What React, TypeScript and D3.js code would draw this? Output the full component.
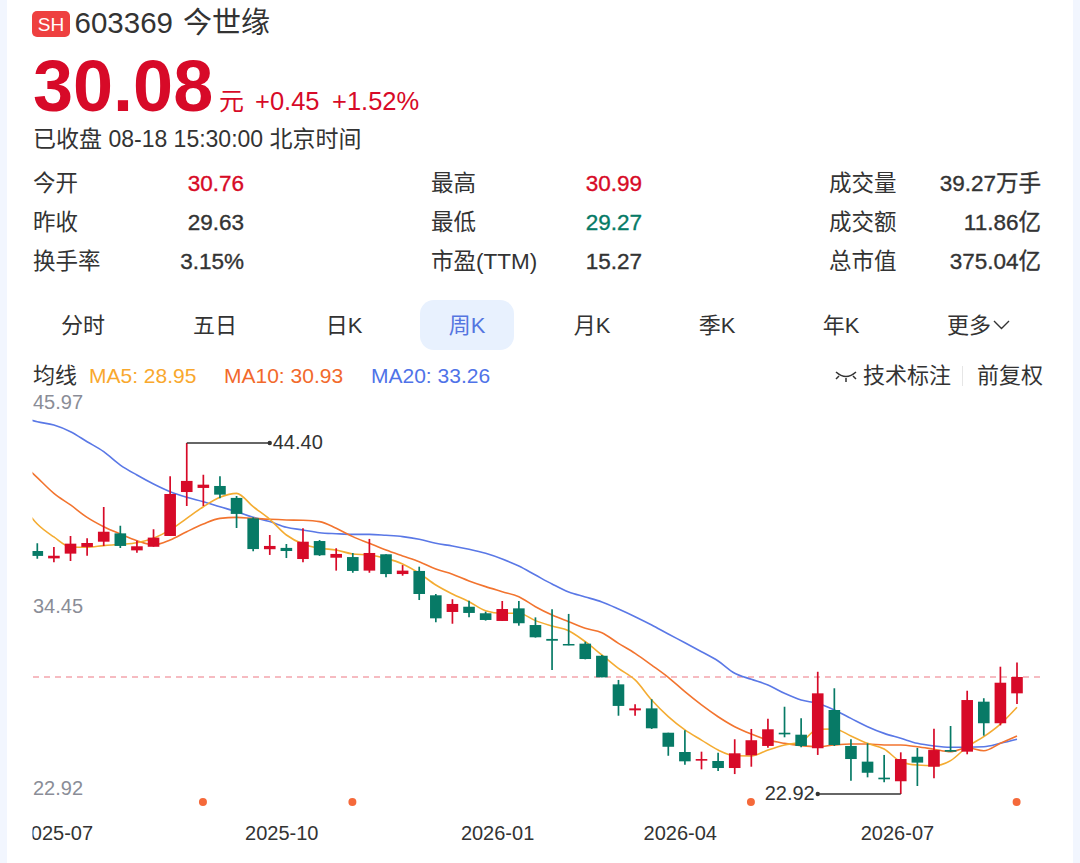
import React from "react";
import * as d3 from "d3";

const opens = [37.79,37.34,37.63,38.04,38.36,38.87,37.83,38.05,38.71,41.40,41.65,41.77,41.04,39.79,37.90,37.98,37.30,38.40,37.38,37.42,36.59,37.59,36.38,36.57,35.08,34.06,34.38,33.98,33.51,34.28,33.26,32.41,32.10,32.12,31.38,29.63,28.04,28.16,26.67,25.49,24.96,24.94,24.51,25.29,25.86,26.67,26.55,25.72,28.06,25.86,24.90,23.92,23.70,25.20,24.59,25.61,25.51,28.57,27.25,29.08];
const closes = [37.49,37.50,38.24,38.28,38.97,38.10,38.08,38.61,41.28,42.08,41.85,41.24,40.06,37.91,38.10,37.79,38.36,37.53,37.61,36.57,37.67,36.38,36.59,35.16,33.67,34.55,34.00,33.57,34.24,33.37,32.51,32.30,32.02,31.18,30.06,28.31,28.16,26.94,25.81,24.92,25.06,24.51,25.41,26.21,26.88,26.57,25.86,29.08,25.92,25.06,24.22,23.82,25.06,24.84,25.61,25.51,28.67,27.25,29.73,30.08];
const highs = [38.26,38.04,38.71,38.57,40.48,39.34,38.42,39.12,42.36,44.40,42.46,42.36,41.16,39.85,38.77,38.22,39.18,38.46,37.96,37.67,38.53,37.59,36.93,36.83,35.16,34.84,34.75,34.08,34.73,34.73,33.73,34.22,33.94,32.24,31.43,29.90,28.41,28.72,26.67,26.82,25.51,25.45,26.27,26.90,27.53,28.26,27.55,30.40,29.39,26.27,26.02,25.31,25.47,25.74,26.92,27.08,29.24,28.78,30.71,30.96];
const lows = [37.32,37.10,37.18,37.50,38.10,37.98,37.69,38.05,38.71,40.55,40.55,41.02,39.20,37.77,37.55,37.36,37.10,37.49,36.59,36.46,36.46,36.18,36.28,34.79,33.43,33.34,33.73,33.53,33.51,33.22,32.49,30.51,32.02,31.16,30.06,27.71,27.71,26.90,25.26,24.71,24.43,24.33,24.14,24.59,25.75,26.39,25.78,25.31,25.86,23.73,23.94,23.64,22.92,23.41,23.88,25.49,25.35,26.49,27.12,28.43];

// moving averages: the first value belongs to the week before the first visible candle
const ma5 = [40.73,39.44,38.65,38.04,38.02,38.12,38.20,38.30,38.57,39.08,39.79,40.50,41.08,41.32,40.50,39.73,38.77,38.22,37.96,37.85,37.61,37.55,37.34,37.00,36.43,35.71,35.16,34.69,34.14,33.98,33.98,33.53,33.20,32.91,32.24,31.43,30.61,29.90,28.67,27.65,26.84,26.22,25.61,25.26,25.25,25.61,25.92,26.12,26.88,26.90,26.47,26.02,25.67,24.90,24.69,24.65,24.96,25.81,26.43,27.20,28.23];
const ma10 = [43.24,42.28,41.32,40.61,39.85,39.28,38.83,38.42,38.16,38.46,38.97,39.44,39.79,39.85,39.79,39.73,39.69,39.67,39.59,39.18,38.67,38.26,37.85,37.49,37.14,36.69,36.37,35.96,35.61,35.30,34.99,34.38,33.87,33.46,33.06,32.79,32.14,31.53,30.81,30.06,29.18,28.37,27.65,27.04,26.59,26.22,26.02,25.88,25.81,25.92,25.98,25.98,25.92,25.92,25.81,25.66,25.51,25.75,25.57,26.02,26.47];
const ma20 = [45.99,45.70,45.50,45.09,44.48,43.87,43.05,42.44,41.89,41.42,41.08,40.81,40.50,40.20,39.85,39.59,39.24,39.08,38.91,38.85,38.81,38.81,38.75,38.67,38.51,38.26,38.10,37.90,37.65,37.30,36.87,36.32,35.77,35.28,34.98,34.67,34.24,33.77,33.26,32.71,32.18,31.63,31.06,30.31,29.94,29.59,29.08,28.67,28.47,28.06,27.55,27.04,26.63,26.33,26.02,25.86,25.78,25.78,25.81,26.02,26.27];

const dateLabels = ["2025-07","2025-10","2026-01","2026-04","2026-07"];
const dateIndex = [1.15,14.72,27.72,38.72,51.8];
const eventIndex = [10,19,43,59];
const axisPrices = [45.97,34.45,22.92];
const axisOffsets = [-15,0,-6];
const highIndex = 9, lowIndex = 52, highValue = 44.40, lowValue = 22.92, lastPrice = 30.08;

const tabs = ["分时","五日","日K","周K","月K","季K","年K"];
const tabCenters = [83,215,344,467,592,717,841];
const statRows = [
  ["今开","30.76","最高","30.99","成交量","39.27万手"],
  ["昨收","29.63","最低","29.27","成交额","11.86亿"],
  ["换手率","3.15%","市盈(TTM)","15.27","总市值","375.04亿"],
];
const statColors = [
  ["#d70a26","#d70a26","#333333"],
  ["#333333","#067a66","#333333"],
  ["#333333","#333333","#333333"],
];

const RED = "#d70a28", GREEN = "#077a66", TEXT = "#333333";
const FONT = "'Liberation Sans', Arial, 'Noto Sans CJK SC', sans-serif";

export default function App() {
  const x = d3.scaleLinear().domain([0, 59]).range([37.3, 1017]);
  const y = d3.scaleLinear().domain([22.92, 44.4]).range([794, 443]);
  const line = d3.line<number>().x((_, i) => x(i - 1)).y(d => y(d)).curve(d3.curveMonotoneX);
  const bodyW = 11.6;
  const rowY = [191, 230, 269];
  const colLabel = [33, 431, 829];
  const colRight = [244, 642, 1041];
  return (
    <svg width={1080} height={863} viewBox="0 0 1080 863"
      style={{ position: "absolute", left: 0, top: 0, display: "block", fontFamily: FONT }}>
      <defs>
        <clipPath id="plot"><rect x={32.5} y={400} width={1012} height={463} /></clipPath>
      </defs>
      <rect width={1080} height={863} fill="#f2f6fe" />
      <rect x={7} y={-12} width={1066} height={890} rx={12} fill="#ffffff" />

      <rect x={32} y={11} width={38} height={26} rx={5} fill="#ee4040" />
      <text x={51} y={31} fontSize={19} fill="#fff" textAnchor="middle">SH</text>
      <text x={74.5} y={33} fontSize={29.5} fill={TEXT}>603369</text>
      <text x={183} y={33} fontSize={29} fill={TEXT}>今世缘</text>

      <text x={33} y={111} fontSize={72} fontWeight={700} fill={RED}>30.08</text>
      <text x={219} y={110} fontSize={25} fill={RED}>元</text>
      <text x={255} y={110} fontSize={25.5} fill={RED}>+0.45</text>
      <text x={332} y={110} fontSize={25.5} fill={RED}>+1.52%</text>
      <text x={33} y={147} fontSize={23} fill={TEXT}>已收盘 08-18 15:30:00 北京时间</text>

      {statRows.map((row, r) => (
        <g key={r}>
          {[0, 1, 2].map(c => (
            <g key={c}>
              <text x={colLabel[c]} y={rowY[r]} fontSize={22.5} fill={TEXT}>{row[c * 2]}</text>
              <text x={colRight[c]} y={rowY[r]} fontSize={22.5} textAnchor="end"
                fill={statColors[r][c]} stroke={statColors[r][c]} strokeWidth={0.35}>{row[c * 2 + 1]}</text>
            </g>
          ))}
        </g>
      ))}

      <rect x={420} y={300} width={94} height={50} rx={14} fill="#e8f1fe" />
      {tabs.map((t, i) => (
        <text key={t} x={tabCenters[i]} y={333} fontSize={22} textAnchor="middle"
          fill={t === "周K" ? "#5575e0" : TEXT}>{t}</text>
      ))}
      <text x={947} y={333} fontSize={22} fill={TEXT}>更多</text>
      <path d="M994 321 L1001.5 328.5 L1009 321" fill="none" stroke={TEXT} strokeWidth={1.4} />

      <text x={33} y={383} fontSize={22} fill={TEXT}>均线</text>
      <text x={89} y={383} fontSize={21} fill="#f9a82d">MA5: 28.95</text>
      <text x={224} y={383} fontSize={21} fill="#f2692b">MA10: 30.93</text>
      <text x={371} y={383} fontSize={21} fill="#4f73e8">MA20: 33.26</text>
      <path d="M836 372 Q846 381 856 372 M839 376 L836 379 M846 378 L846 382 M853 376 L856 379"
        fill="none" stroke={TEXT} strokeWidth={1.5} />
      <text x={863} y={383} fontSize={22} fill={TEXT}>技术标注</text>
      <line x1={962.5} x2={962.5} y1={366} y2={386} stroke="#e6e6e6" />
      <text x={977} y={383} fontSize={22} fill={TEXT}>前复权</text>

      <g clipPath="url(#plot)">
        <line x1={33} x2={1044} y1={y(lastPrice)} y2={y(lastPrice)} stroke="#f3a5ad" strokeWidth={1.3} strokeDasharray="6 5" />
        <path d={line(ma20) ?? ""} fill="none" stroke="#5a78e6" strokeWidth={1.6} />
        <path d={line(ma10) ?? ""} fill="none" stroke="#f2742f" strokeWidth={1.6} />
        <path d={line(ma5) ?? ""} fill="none" stroke="#f4ac32" strokeWidth={1.6} />
        {opens.map((o, i) => {
          const c = closes[i];
          const col = c >= o ? RED : GREEN;
          const top = y(Math.max(o, c));
          const h = Math.max(1.5, Math.abs(y(o) - y(c)));
          return (
            <g key={i}>
              <line x1={x(i)} x2={x(i)} y1={y(highs[i])} y2={y(lows[i])} stroke={col} strokeWidth={1.7} />
              <rect x={x(i) - bodyW / 2} y={top} width={bodyW} height={h} fill={col} />
            </g>
          );
        })}
        {dateLabels.map((d, i) => (
          <text key={d} x={x(dateIndex[i])} y={840} fontSize={20} textAnchor="middle" fill={TEXT}>{d}</text>
        ))}
      </g>

      {axisPrices.map((p, i) => (
        <text key={p} x={33} y={y(p) + 7 + axisOffsets[i] + (i === 0 ? -62.3 + 62.3 : 0)} fontSize={20} fill="#8a8d97">{p.toFixed(2)}</text>
      ))}

      <path d={`M${x(highIndex)} ${y(highValue)} H${x(highIndex) + 83}`} stroke={TEXT} strokeWidth={1.3} fill="none" />
      <circle cx={x(highIndex) + 83} cy={y(highValue)} r={2.2} fill={TEXT} />
      <text x={x(highIndex) + 86} y={y(highValue) + 6} fontSize={20} fill={TEXT}>{highValue.toFixed(2)}</text>
      <path d={`M${x(lowIndex)} ${y(lowValue)} H${x(lowIndex) - 83}`} stroke={TEXT} strokeWidth={1.3} fill="none" />
      <circle cx={x(lowIndex) - 83} cy={y(lowValue)} r={2.2} fill={TEXT} />
      <text x={x(lowIndex) - 86} y={y(lowValue) + 6} fontSize={20} fill={TEXT} textAnchor="end">{lowValue.toFixed(2)}</text>

      {eventIndex.map(i => (
        <circle key={i} cx={x(i) - 0.4} cy={802} r={4} fill="#f5693a" />
      ))}
    </svg>
  );
}
